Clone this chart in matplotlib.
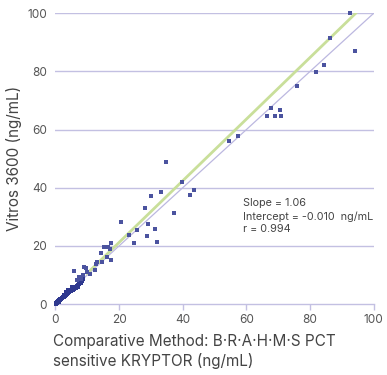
import matplotlib
matplotlib.use("Agg")
import matplotlib.pyplot as plt

plt.rcParams['font.family'] = ['Inter', 'DejaVu Sans']

# comparative method (x) vs Vitros 3600 (y), ng/mL
x_low = [0.1, 0.2, 0.3, 0.3, 0.4, 0.5, 0.6, 0.6, 0.7, 0.8, 0.9, 1.0, 1.1, 1.2,
         1.3, 1.4, 1.5, 1.6, 1.8, 1.9, 2.0, 2.2, 2.3, 2.5, 2.6, 2.8, 3.0, 3.1,
         3.3, 3.5, 3.6, 3.8, 4.0, 4.2, 4.4, 4.6, 4.8, 5.0, 5.2, 5.5, 5.7, 6.0,
         6.2, 6.5, 6.8, 7.0, 7.2, 7.5, 7.7, 8.0, 8.3, 8.6, 2.7, 3.4, 4.1, 5.3]
y_low = [0.1, 0.3, 0.2, 0.5, 0.4, 0.6, 0.5, 0.9, 0.8, 0.7, 1.0, 1.1, 0.9, 1.3,
         1.2, 1.5, 1.4, 1.7, 1.6, 1.9, 2.1, 2.0, 2.4, 2.3, 2.7, 2.5, 2.9, 3.3,
         3.0, 3.4, 3.8, 3.5, 3.7, 4.1, 4.0, 4.4, 4.7, 4.5, 5.1, 4.9, 5.4, 5.3,
         5.8, 5.6, 6.3, 6.0, 6.7, 6.9, 7.4, 7.2, 7.8, 8.5, 3.1, 4.2, 5.0, 6.0]
x_high = [5.8, 9.0, 7.5, 6.7, 8.1, 8.7, 9.6, 10.0, 10.8, 12.5, 12.9, 13.1, 14.7,
          14.3, 16.3, 17.4, 15.3, 16.4, 17.1, 17.5, 20.6, 23.1, 24.7, 25.5,
          28.1, 29.1, 28.7, 31.4, 31.9, 29.9, 33.2, 34.7, 37.3, 39.7, 42.3,
          43.6, 54.6, 57.4, 66.5, 67.8, 69.0, 70.6, 70.9, 75.9, 81.9, 84.4,
          86.3, 92.6, 94.2]
y_high = [11.4, 12.8, 9.4, 8.2, 8.8, 10.0, 12.3, 10.9, 10.5, 11.7, 13.7, 14.5,
          14.5, 17.4, 16.2, 15.2, 19.7, 19.7, 19.1, 21.1, 28.3, 23.8, 21.1,
          25.5, 33.1, 27.6, 23.5, 25.9, 21.4, 37.2, 38.6, 48.9, 31.4, 42.0,
          37.6, 39.3, 56.1, 57.8, 64.7, 67.5, 64.7, 66.8, 64.7, 75.0, 79.8,
          82.2, 91.5, 100.1, 87.0]

slope = 1.06
intercept = -0.010
fit_x = [10.0, 94.3]
ident = [0, 100]

fig = plt.figure(figsize=(3.87, 3.75), dpi=100)
ax = fig.add_axes([0.143, 0.189, 0.823, 0.776])

grid_col = '#c3c0e2'
for v in range(20, 101, 20):
    ax.axhline(v, color=grid_col, lw=1.0, zorder=0)

ax.plot(ident, ident, color='#bcb8e0', lw=0.9, zorder=1)
ax.plot(fit_x, [slope * v + intercept for v in fit_x], color='#c9df9a', lw=2.0, zorder=2)

ax.scatter(x_low, y_low, marker='s', s=10, color='#2e388f', linewidths=0,
           zorder=3, clip_on=False)
ax.scatter(x_high, y_high, marker='s', s=10, color='#4b539f', linewidths=0,
           zorder=3, clip_on=False)

ax.set_xlim(0, 100)
ax.set_ylim(0, 100)
ax.set_xticks(range(0, 101, 20))
ax.set_yticks(range(0, 101, 20))

for s in ['top', 'right', 'left']:
    ax.spines[s].set_visible(False)
ax.spines['bottom'].set_color(grid_col)
ax.spines['bottom'].set_linewidth(1.0)
ax.tick_params(axis='x', colors=grid_col, length=4, width=1.0, labelcolor='#555555',
               labelsize=8.5, pad=3)
ax.tick_params(axis='y', length=0, labelcolor='#555555', labelsize=8.5, pad=6)

ax.text(59, 36.3, "Slope = 1.06\nIntercept = -0.010  ng/mL\nr = 0.994",
        fontsize=7.8, color='#444444', va='top', ha='left', linespacing=1.3)

ax.set_ylabel("Vitros 3600 (ng/mL)", fontsize=11, color='#444444', labelpad=4)
fig.text(0.137, 0.015, "Comparative Method: B\u00b7R\u00b7A\u00b7H\u00b7M\u00b7S PCT\nsensitive KRYPTOR (ng/mL)",
         fontsize=11, color='#444444', ha='left', va='bottom', linespacing=1.3)

fig.savefig('out.png', dpi=100)
